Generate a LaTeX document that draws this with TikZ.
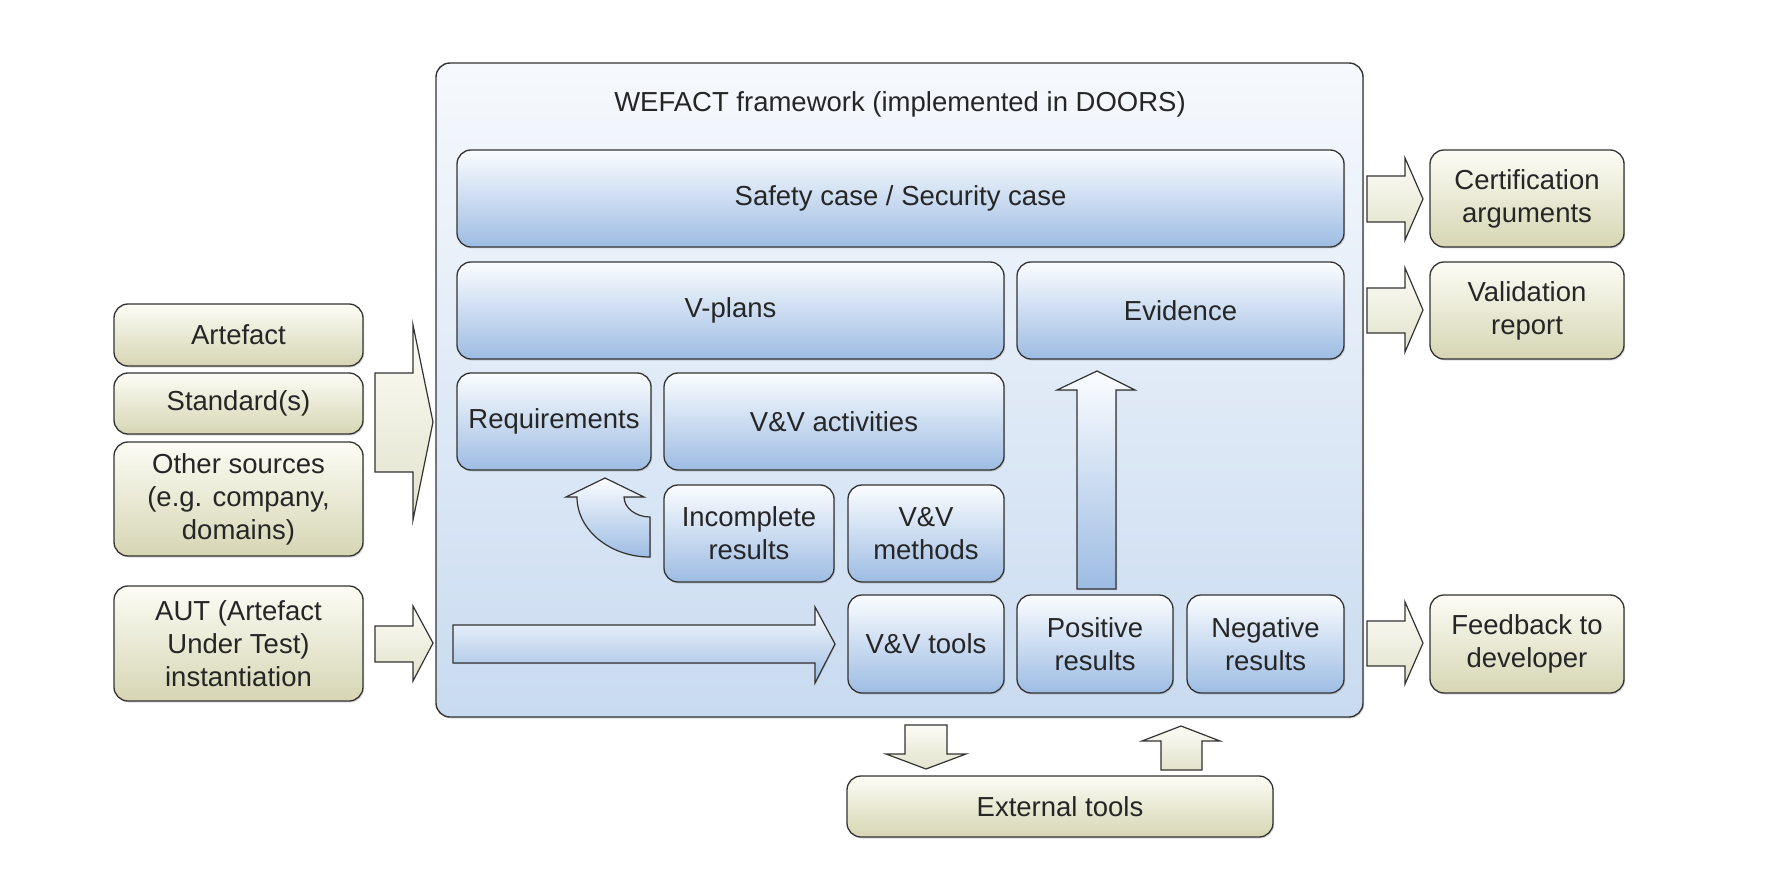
\documentclass[tikz,border=0pt]{standalone}
\usepackage{fontspec}
\setmainfont{Liberation Sans}
\usetikzlibrary{shadows}
\definecolor{frametop}{HTML}{F6F9FD}
\definecolor{framebot}{HTML}{C9DBF0}
\definecolor{bluetop}{HTML}{FBFDFF}
\definecolor{bluebot}{HTML}{9DBCE3}
\definecolor{tantop}{HTML}{FCFCF5}
\definecolor{tanbot}{HTML}{D6D6B4}
\definecolor{tanarrtop}{HTML}{FCFCF6}
\definecolor{tanarrbot}{HTML}{E2E2CC}
\definecolor{edge}{HTML}{333333}
\definecolor{txt}{HTML}{262626}
\begin{document}
\begin{tikzpicture}[x=1pt,y=-1pt,
  every node/.style={font=\fontsize{27.5}{33}\selectfont, text=txt, align=center, inner sep=0pt},
  boxbase/.style={draw=edge, line width=1.3pt, rounded corners=14pt,
    drop shadow={shadow xshift=1.2pt, shadow yshift=-1.5pt, opacity=0.3}},
  bluebox/.style={boxbase, top color=bluetop, bottom color=bluebot},
  tanbox/.style={boxbase, top color=tantop, bottom color=tanbot},
  framebox/.style={draw=edge, line width=1.4pt, rounded corners=14pt, top color=frametop, bottom color=framebot,
    drop shadow={shadow xshift=1.2pt, shadow yshift=-1.5pt, opacity=0.3}},
  tanarrow/.style={draw=edge, line width=1.2pt, line join=miter, top color=tanarrtop, bottom color=tanarrbot},
  bluearrow/.style={draw=edge, line width=1.2pt, line join=miter, top color=bluetop, bottom color=bluebot,
    drop shadow={shadow xshift=1pt, shadow yshift=-1pt, opacity=0.3}}
]
\useasboundingbox (0,0) rectangle (1768,882);
\fill[white] (0,0) rectangle (1768,882);

% main frame
\node[framebox, minimum width=927pt, minimum height=654pt] (frame) at (899.5,390) {};
\node (title) at (900,104) {WEFACT framework (implemented in DOORS)};

% inner blue boxes
\node[bluebox, minimum width=887pt, minimum height=97pt] (safety) at (900.5,198.5) {Safety case / Security case};
\node[bluebox, minimum width=547pt, minimum height=97pt] (vplans) at (730.5,310.5) {V-plans};
\node[bluebox, minimum width=327pt, minimum height=97pt] (evidence) at (1180.5,310.5) {Evidence};
\node[bluebox, minimum width=194pt, minimum height=97pt] (req) at (554,421.5) {Requirements};
\node[bluebox, minimum width=340pt, minimum height=97pt] (vvact) at (834,421.5) {V\&V activities};
\node[bluebox, minimum width=170pt, minimum height=97pt] (incomplete) at (749,533.5) {Incomplete\\results};
\node[bluebox, minimum width=156pt, minimum height=97pt] (vvmeth) at (926,533.5) {V\&V\\methods};
\node[bluebox, minimum width=156pt, minimum height=98pt] (vvtools) at (926,644) {V\&V tools};
\node[bluebox, minimum width=156pt, minimum height=98pt] (positive) at (1095,644) {Positive\\results};
\node[bluebox, minimum width=157pt, minimum height=98pt] (negative) at (1265.5,644) {Negative\\results};

% left tan boxes
\node[tanbox, minimum width=249pt, minimum height=62pt] (artefact) at (238.5,335) {Artefact};
\node[tanbox, minimum width=249pt, minimum height=61pt] (standards) at (238.5,403.5) {Standard(s)};
\node[tanbox, minimum width=249pt, minimum height=114pt] (other) at (238.5,499) {Other sources\\(e.g. company,\\domains)};
\node[tanbox, minimum width=249pt, minimum height=115pt] (aut) at (238.5,643.5) {AUT (Artefact\\Under Test)\\instantiation};

% right tan boxes
\node[tanbox, minimum width=194pt, minimum height=97pt] (cert) at (1527,198.5) {Certification\\arguments};
\node[tanbox, minimum width=194pt, minimum height=97pt] (valid) at (1527,310.5) {Validation\\report};
\node[tanbox, minimum width=194pt, minimum height=98pt] (feedback) at (1527,644) {Feedback to\\developer};
\node[tanbox, minimum width=426pt, minimum height=61pt] (external) at (1060,806.5) {External tools};

% outer block arrows (tan)
\draw[tanarrow] (375,373) -- (413,373) -- (413,325) -- (433,422) -- (413,520) -- (413,472) -- (375,472) -- cycle;
\draw[tanarrow] (375,626) -- (413,626) -- (413,606) -- (433,643) -- (413,681) -- (413,662) -- (375,662) -- cycle;
\draw[tanarrow] (1367,176) -- (1405,176) -- (1405,158) -- (1423,199) -- (1405,240) -- (1405,222) -- (1367,222) -- cycle;
\draw[tanarrow] (1367,288) -- (1405,288) -- (1405,268) -- (1423,310) -- (1405,352) -- (1405,333) -- (1367,333) -- cycle;
\draw[tanarrow] (1367,621) -- (1405,621) -- (1405,602) -- (1423,643) -- (1405,684) -- (1405,666) -- (1367,666) -- cycle;
\draw[tanarrow] (905,725) -- (947,725) -- (947,754) -- (966,754) -- (926,769) -- (886,754) -- (905,754) -- cycle;
\draw[tanarrow] (1161,770) -- (1202,770) -- (1202,741) -- (1220,741) -- (1181,726) -- (1142,741) -- (1161,741) -- cycle;

% inner block arrows (blue)
\draw[bluearrow] (453,625) -- (815,625) -- (815,607) -- (835,644) -- (815,683) -- (815,663) -- (453,663) -- cycle;
\draw[bluearrow] (1077,589) -- (1077,390) -- (1057,390) -- (1097,371) -- (1135,390) -- (1116,390) -- (1116,589) -- cycle;
\draw[bluearrow] (605,478) -- (644,497) -- (624,497)
  .. controls (624,508) and (636,517) .. (650,517) -- (650,557)
  .. controls (610,557) and (577,530) .. (577,497) -- (566,497) -- cycle;
\end{tikzpicture}
\end{document}
